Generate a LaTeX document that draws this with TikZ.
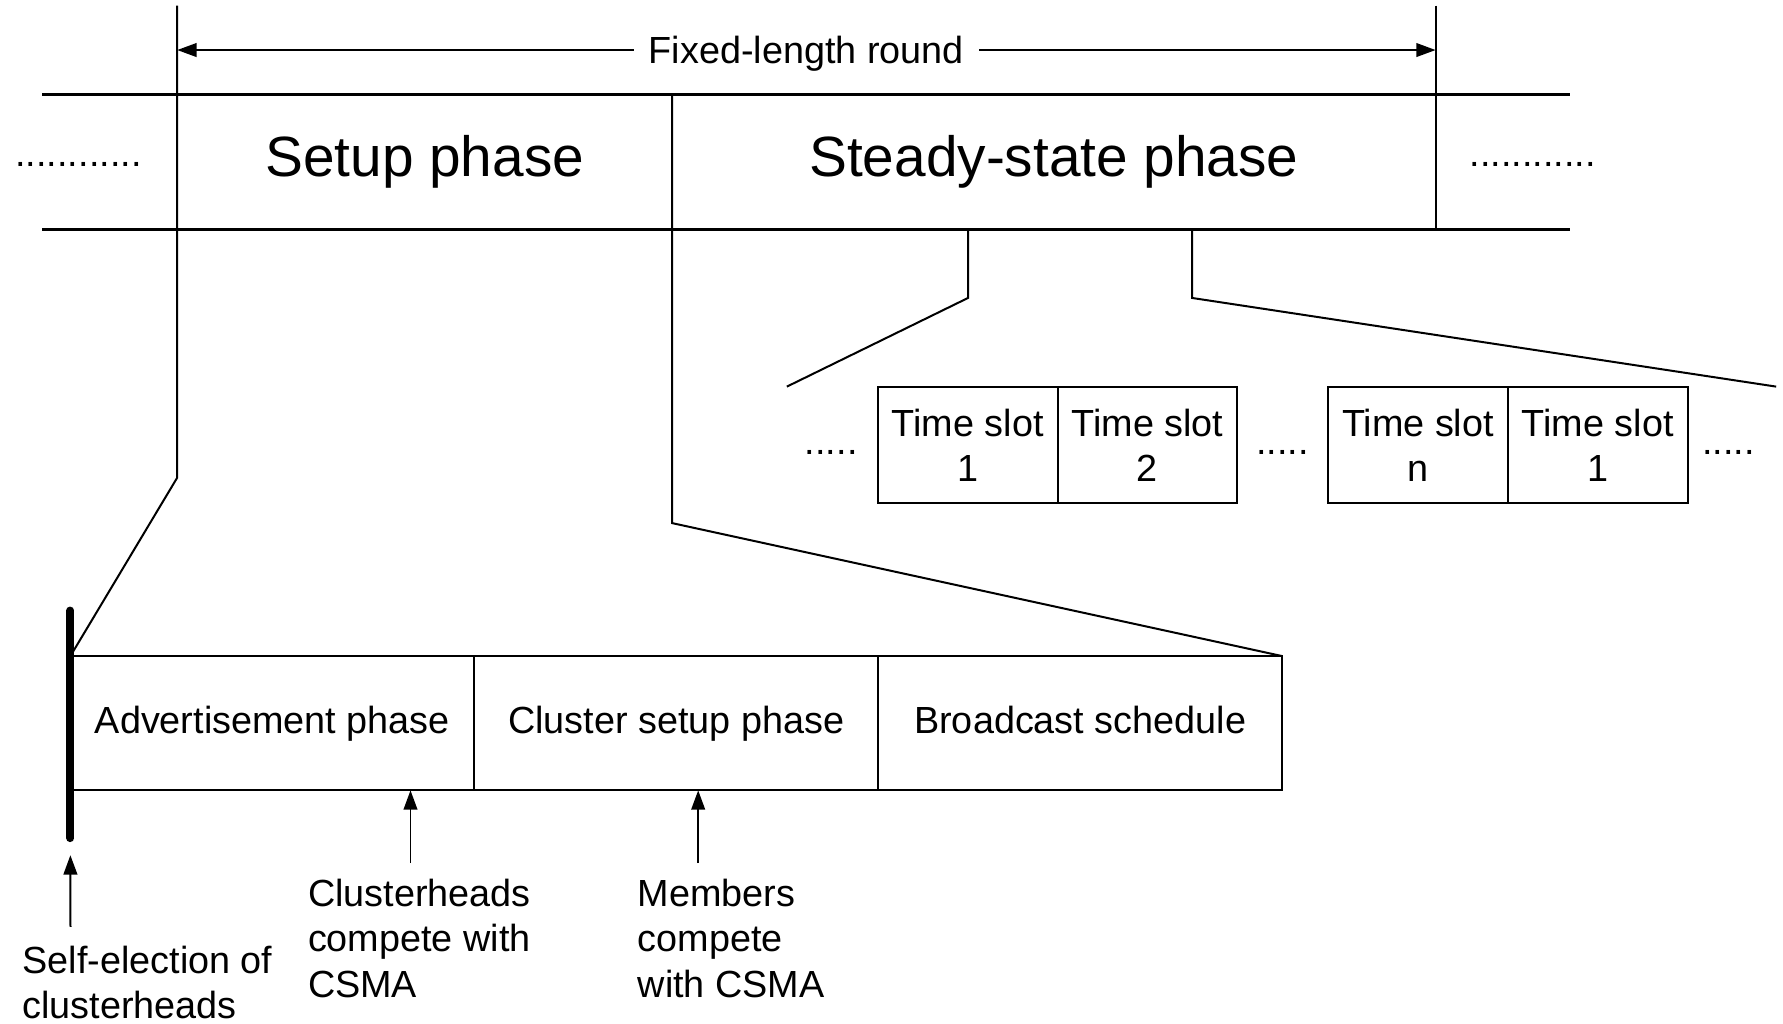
\documentclass[tikz,border=0pt]{standalone}
\usepackage{fontspec}
\setmainfont{Liberation Sans}
\usetikzlibrary{positioning}
\usetikzlibrary{arrows.meta}

\begin{document}
\begin{tikzpicture}[
  x=0.01cm, y=-0.01cm,
  font=\fontsize{9.45}{11.4}\selectfont,
  line width=0.5pt,
  band/.style={line width=0.75pt},
  phase/.style={minimum height=1.19cm, inner sep=0pt, outer sep=0pt, font=\fontsize{14.2}{17}\selectfont},
  cell/.style={draw, minimum width=3.55cm, minimum height=1.18cm, inner sep=0pt, outer sep=0pt, text height=0.72em, text depth=0.21em},
  slot/.style={draw, align=center, minimum width=1.58cm, minimum height=1.02cm, inner sep=0pt, outer sep=0pt},
  note/.style={align=left, anchor=north west, inner sep=0pt},
  pointer/.style={-{Triangle[length=0.17cm, width=0.12cm]}},
  span/.style={{Triangle[length=0.17cm, width=0.12cm]}-{Triangle[length=0.17cm, width=0.12cm]}},
  startbar/.style={line width=2pt, line cap=round}
]
\useasboundingbox (0,0) rectangle (1568,900);

% round
\node[phase, minimum width=4.35cm] (setup) at (373.5,142.5) {Setup phase};
\node[phase, minimum width=6.71cm, right=0pt of setup] (steady) {Steady-state phase};
\node (dotsL) at (69,145) {............};
\node (dotsR) at (1348,145) {............};

\coordinate (roof) at (0,5);
\coordinate (dimy) at (0,44);
\coordinate (bandL) at (37,0);
\coordinate (bandR) at (1381,0);

\draw[band] (setup.north west -| bandL) -- (steady.north east -| bandR);
\draw[band] (setup.south west -| bandL) -- (steady.south east -| bandR);
\draw[span] (setup.north west |- dimy) -- node[fill=white, inner xsep=0.13cm, yshift=-0.03cm] (round) {Fixed-length round} (steady.north east |- dimy);

% time slots
\node[slot] (ts1) at (851,391.5) {Time slot\\1};
\node[slot, right=0pt of ts1] (ts2) {Time slot\\2};
\node[slot] (ts3) at (1247,391.5) {Time slot\\n};
\node[slot, right=0pt of ts3] (ts4) {Time slot\\1};
\node (gap1) at (731,398) {.....};
\node (gap2) at (1128,398) {.....};
\node (gap3) at (1520,398) {.....};

% setup sub-phases
\node[cell] (adv) at (239.5,636) {Advertisement phase};
\node[cell, right=0pt of adv] (clus) {Cluster setup phase};
\node[cell, right=0pt of clus] (bcast) {Broadcast schedule};
\draw[startbar] ([yshift=0.4cm]adv.north west) -- ([yshift=-0.42cm]adv.south west);

% zoom lines
\coordinate (fanL) at (692,340);
\coordinate (fanR) at (1562,340);
\draw (setup.north west |- roof) -- (setup.south west) -- ++(0,218) -- (adv.north west);
\draw (steady.north east |- roof) -- (steady.south east);
\draw (setup.north east) -- (setup.south east) -- ++(0,258) -- (bcast.north east);
\draw ([xshift=2.6cm]steady.south west) -- ++(0,60) -- (fanL);
\draw ([xshift=4.57cm]steady.south west) -- ++(0,60) -- (fanR);

% notes
\node[note] (selfel) at (19,831) {Self-election of\\clusterheads};
\node[note] (chnote) at (270,772) {Clusterheads\\compete with\\CSMA};
\node[note] (mbnote) at (560,772) {Members\\compete\\with CSMA};

\coordinate (selfpt) at (62,815);
\coordinate (chpt) at (361,759);
\coordinate (mbpt) at (614,759);
\draw[pointer] (selfpt) -- ([yshift=-0.57cm]adv.south west);
\draw[pointer] (chpt) -- (chpt |- adv.south);
\draw[pointer] (mbpt) -- (mbpt |- clus.south);

\end{tikzpicture}
\end{document}
